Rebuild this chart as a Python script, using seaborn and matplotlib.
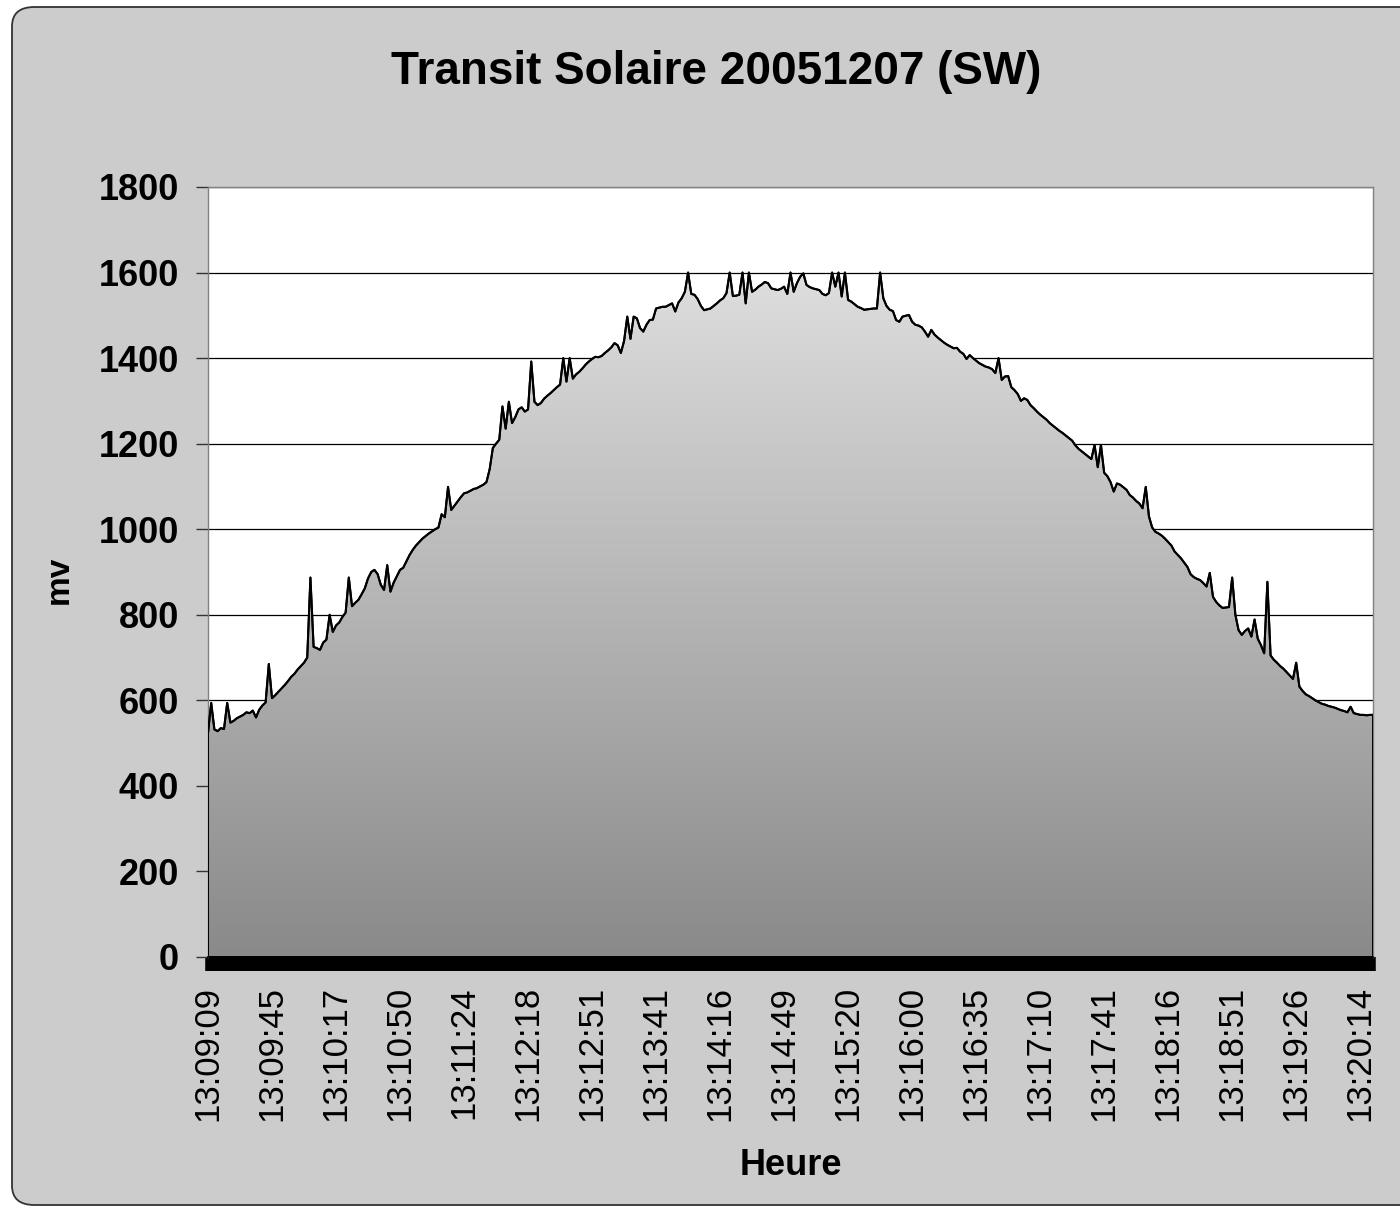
import numpy as np
import pandas as pd
import matplotlib
matplotlib.use('Agg')  # Use non-interactive backend
import matplotlib.pyplot as plt
from matplotlib.colors import LinearSegmentedColormap
from matplotlib.patches import FancyBboxPatch
import seaborn as sns

title = 'Transit Solaire 20051207 (SW)'
x_label = 'Heure'
y_label = 'mv'

# one time label every 20 samples
label_step = 20
time_labels = ['13:09:09', '13:09:45', '13:10:17', '13:10:50', '13:11:24',
               '13:12:18', '13:12:51', '13:13:41', '13:14:16', '13:14:49',
               '13:15:20', '13:16:00', '13:16:35', '13:17:10', '13:17:41',
               '13:18:16', '13:18:51', '13:19:26', '13:20:14']

# detector signal (mV)
mv = [
    524, 594, 532, 528, 535, 533, 594, 548, 552, 558, 562, 566, 572, 570, 576, 560, 578, 588, 595, 685,
    605, 612, 620, 628, 636, 645, 655, 662, 672, 680, 688, 700, 887, 725, 722, 718, 735, 742, 800, 760,
    775, 782, 795, 805, 887, 820, 828, 835, 848, 862, 885, 900, 905, 895, 870, 858, 916, 854, 875, 890, 905,
    910, 925, 940, 952, 962, 970, 978, 984, 990, 995, 1000, 1004, 1035, 1028, 1099, 1045, 1055, 1065, 1075, 1084,
    1086, 1090, 1094, 1096, 1100, 1104, 1110, 1140, 1190, 1200, 1209, 1287, 1235, 1298, 1248, 1262, 1280, 1285, 1275, 1280,
    1392, 1298, 1290, 1295, 1305, 1312, 1318, 1325, 1332, 1338, 1400, 1345, 1400, 1352, 1362, 1368, 1376, 1385, 1392, 1398,
    1403, 1402, 1405, 1412, 1418, 1425, 1435, 1430, 1412, 1440, 1497, 1445, 1497, 1493, 1470, 1462, 1478, 1489, 1490, 1516, 1518,
    1520, 1520, 1524, 1528, 1509, 1530, 1540, 1555, 1600, 1550, 1548, 1538, 1522, 1512, 1514, 1516, 1522, 1528, 1535, 1540,
    1552, 1600, 1545, 1546, 1548, 1600, 1528, 1600, 1555, 1560, 1567, 1572, 1578, 1575, 1563, 1561, 1559, 1562, 1567, 1550,
    1600, 1555, 1575, 1590, 1598, 1571, 1566, 1563, 1561, 1559, 1550, 1547, 1552, 1600, 1567, 1600, 1544, 1600, 1536, 1532,
    1526, 1520, 1517, 1513, 1514, 1515, 1516, 1516, 1600, 1540, 1522, 1513, 1510, 1489, 1485, 1497, 1499, 1501, 1485, 1478,
    1476, 1472, 1462, 1450, 1466, 1455, 1448, 1442, 1436, 1431, 1427, 1423, 1424, 1415, 1410, 1398, 1407, 1400, 1394, 1388, 1384,
    1380, 1378, 1374, 1365, 1400, 1349, 1357, 1358, 1332, 1325, 1316, 1300, 1306, 1302, 1290, 1283, 1275, 1268, 1262, 1256,
    1248, 1242, 1236, 1230, 1225, 1219, 1213, 1207, 1196, 1188, 1182, 1176, 1170, 1164, 1197, 1145, 1197, 1132, 1124, 1110,
    1088, 1107, 1104, 1098, 1092, 1080, 1074, 1066, 1060, 1049, 1099, 1030, 1004, 994, 990, 985, 978, 970, 962, 948,
    940, 932, 922, 912, 895, 888, 884, 881, 874, 866, 898, 842, 830, 822, 816, 817, 818, 887, 800, 764, 753,
    762, 768, 749, 789, 744, 729, 710, 877, 705, 695, 688, 680, 674, 666, 658, 650, 688, 632, 622, 614,
    610, 605, 600, 596, 592, 590, 587, 585, 583, 580, 577, 575, 572, 585, 570, 568, 566, 566, 565, 566,
    566,
]

y_max = 1800
y_step = 200

sns.set_theme(style='white')
plt.rcParams['font.family'] = ['Liberation Sans', 'DejaVu Sans']

df = pd.DataFrame({'sample': np.arange(len(mv)), 'mv': mv})

W, H = 1400, 1209
fig = plt.figure(figsize=(W / 100, H / 100), dpi=100, facecolor='white')

# grey chart area with rounded corners (right edge runs off the picture)
frame = FancyBboxPatch((12 / W, 4 / H), 1.2, 1198 / H,
                       boxstyle='round,pad=0,rounding_size=0.016',
                       transform=fig.transFigure, facecolor='#cccccc',
                       edgecolor='#333333', linewidth=1.3, zorder=0)
fig.add_artist(frame)

ax = fig.add_axes([208 / W, 1 - 957 / H, 1165 / W, 770 / H])
ax.set_facecolor('white')

x = df['sample'].to_numpy()
y = df['mv'].to_numpy()

# gradient filled area, clipped to the data polygon
area = ax.fill_between(x, 0, y, facecolor='none', edgecolor='black', linewidth=1.4, zorder=3)
cmap = LinearSegmentedColormap.from_list('area', ['#8a8a8a', '#e8e8e8'])
grad = np.linspace(0, 1, 256).reshape(-1, 1)
im = ax.imshow(grad, cmap=cmap, aspect='auto', origin='lower',
               extent=[x[0], x[-1], 0, y_max], zorder=2, interpolation='bilinear')
im.set_clip_path(area.get_paths()[0], transform=ax.transData)
sns.lineplot(data=df, x='sample', y='mv', color='black', linewidth=1.5, ax=ax, zorder=4)

ax.set_xlim(x[0], x[-1])
ax.set_ylim(0, y_max)

# axes / grid
ax.set_axisbelow(True)
ax.yaxis.grid(True, color='black', linewidth=0.9)
ax.xaxis.grid(False)
for side in ['top', 'right', 'left']:
    ax.spines[side].set_color('#808080')
    ax.spines[side].set_linewidth(1.0)
ax.spines['bottom'].set_color('black')

ax.set_yticks(np.arange(0, y_max + 1, y_step))
ax.tick_params(axis='y', left=True, direction='out', length=9, width=1.0,
               color='#333333', pad=12, labelsize=26, labelcolor='black')
for lbl in ax.get_yticklabels():
    lbl.set_fontweight('bold')

# one tick per sample: they merge into the solid black band under the area
ax.set_xticks(np.arange(0, len(mv), label_step))
ax.set_xticklabels(time_labels, rotation=90, fontsize=25)
ax.set_xticks(np.arange(len(mv)), minor=True)
ax.tick_params(axis='x', which='both', bottom=True, direction='out', length=10,
               width=4.0, color='black')
ax.tick_params(axis='x', which='major', pad=11, labelcolor='black')

ax.set_xlabel(x_label, fontsize=26, fontweight='bold', color='black')
ax.xaxis.set_label_coords(0.5, -0.248)
ax.set_ylabel(y_label, fontsize=24, fontweight='bold', color='black')
ax.yaxis.set_label_coords(-0.114, 0.49)

fig.text(716 / W, 1 - 72 / H, title, ha='center', va='center',
         fontsize=33, fontweight='bold', color='black')

fig.savefig('out.png', dpi=100)
plt.close(fig)
